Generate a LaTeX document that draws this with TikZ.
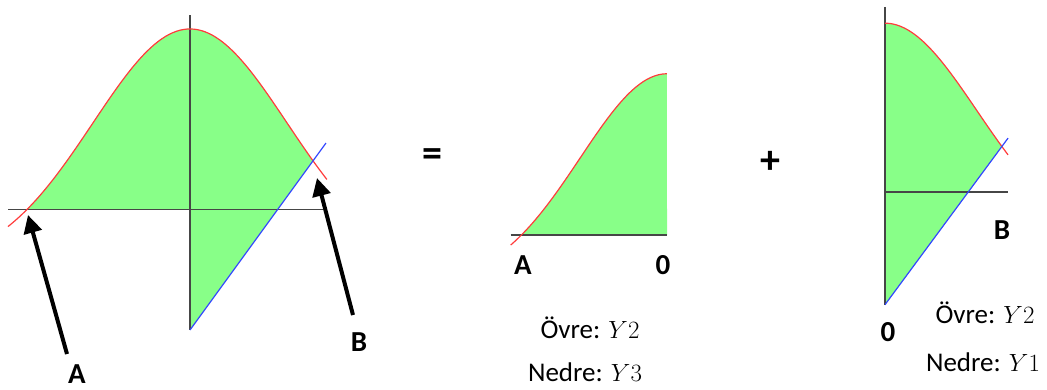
\documentclass[tikz,border=0pt]{standalone}
\usepackage{fontspec}
\setmainfont{Carlito}
\usetikzlibrary{arrows.meta}
\definecolor{areagreen}{RGB}{136,255,136}
\definecolor{curvered}{RGB}{255,60,60}
\definecolor{lineblue}{RGB}{50,70,255}
\definecolor{axisgray}{RGB}{70,70,70}
\begin{document}
\begin{tikzpicture}[x=1pt,y=-1pt,
  declare function={gf(\t)=238.6*exp(-(\t)^2/1.8818)-58.1;},
  axisline/.style={draw=axisgray,line width=1.1pt},
  redcurve/.style={draw=curvered,line width=1.2pt},
  blueline/.style={draw=lineblue,line width=1.2pt},
  areafill/.style={fill=areagreen,draw=none},
  biglabel/.style={font=\fontsize{29}{32}\selectfont\bfseries,inner sep=0pt},
  oplabel/.style={font=\fontsize{40}{44}\selectfont\bfseries,inner sep=0pt},
  txtlabel/.style={font=\fontsize{27}{30}\selectfont,inner sep=0pt},
  bigarrow/.style={line width=4pt,-{Triangle[length=18pt,width=18pt]}}]
\useasboundingbox (0,0) rectangle (1047,389);

% ---------- left graph ----------
\begin{scope}[shift={(190,209.5)}]
  \fill[areafill] plot[domain=-1.63:1.23,samples=80,smooth] ({100*\x},{-gf(\x)})
     -- (0,120.5) -- (0,0) -- cycle;
  \draw[axisline] (-182,0) -- (133,0);
  \draw[axisline] (0,-194.5) -- (0,120.5);
  \draw[redcurve] plot[domain=-1.82:1.37,samples=90,smooth] ({100*\x},{-gf(\x)});
  \draw[blueline] (0,120.5) -- (136,-66.5);
\end{scope}
\coordinate (atail) at (67,354);
\coordinate (atip) at (28,215);
\coordinate (btail) at (353,315);
\coordinate (btip) at (317,178);
\draw[bigarrow] (atail) -- (atip);
\draw[bigarrow] (btail) -- (btip);
\node[biglabel] (lA) at (77,374) {A};
\node[biglabel] (lB) at (359,342) {B};

\node[oplabel] (eq) at (432,158) {=};
\node[oplabel] (plus) at (770,162) {+};

% ---------- middle graph ----------
\begin{scope}[shift={(667,235)},scale=0.893]
  \fill[areafill] plot[domain=-1.63:0,samples=60,smooth] ({100*\x},{-gf(\x)})
     -- (0,0) -- cycle;
  \draw[axisline] (-175,0) -- (0,0);
  \draw[redcurve] plot[domain=-1.75:0,samples=60,smooth] ({100*\x},{-gf(\x)});
\end{scope}
\node[biglabel] (mA) at (523,265) {A};
\node[biglabel] (m0) at (663,265) {0};
\node[txtlabel] (movre) at (590,328) {Övre: $Y2$};
\node[txtlabel] (mnedre) at (585,372) {Nedre: $Y3$};

% ---------- right graph ----------
\begin{scope}[shift={(885,192)},xscale=0.95,yscale=0.935]
  \fill[areafill] (0,120.5) -- plot[domain=0:1.23,samples=50,smooth] ({100*\x},{-gf(\x)})
     -- cycle;
  \draw[axisline] (0,0) -- (129.5,0);
  \draw[axisline] (0,-198) -- (0,120.5);
  \draw[redcurve] plot[domain=0:1.295,samples=50,smooth] ({100*\x},{-gf(\x)});
  \draw[blueline] (0,120.5) -- (129.5,-57.6);
\end{scope}
\node[biglabel] (rB) at (1002,230) {B};
\node[biglabel] (r0) at (888,332) {0};
\node[txtlabel] (rovre) at (985,313) {Övre: $Y2$};
\node[txtlabel] (rnedre) at (983,362) {Nedre: $Y1$};
\end{tikzpicture}
\end{document}
